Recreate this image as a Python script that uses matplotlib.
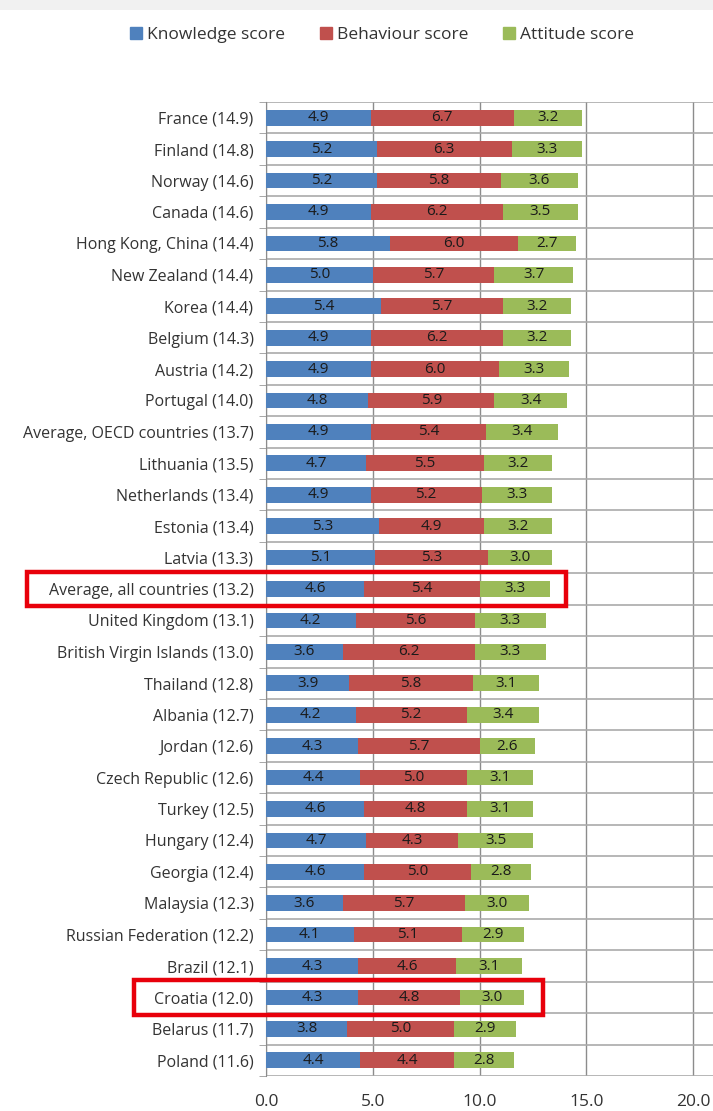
import matplotlib.pyplot as plt
import matplotlib.patches as mpatches
from matplotlib.transforms import blended_transform_factory
import numpy as np

plt.rcParams["font.family"] = ["Open Sans", "DejaVu Sans"]

countries = [
    "France", "Finland", "Norway", "Canada", "Hong Kong, China", "New Zealand",
    "Korea", "Belgium", "Austria", "Portugal", "Average, OECD countries",
    "Lithuania", "Netherlands", "Estonia", "Latvia", "Average, all countries",
    "United Kingdom", "British Virgin Islands", "Thailand", "Albania", "Jordan",
    "Czech Republic", "Turkey", "Hungary", "Georgia", "Malaysia",
    "Russian Federation", "Brazil", "Croatia", "Belarus", "Poland",
]
totals = [14.9, 14.8, 14.6, 14.6, 14.4, 14.4, 14.4, 14.3, 14.2, 14.0, 13.7,
          13.5, 13.4, 13.4, 13.3, 13.2, 13.1, 13.0, 12.8, 12.7, 12.6, 12.6,
          12.5, 12.4, 12.4, 12.3, 12.2, 12.1, 12.0, 11.7, 11.6]
knowledge = [4.9, 5.2, 5.2, 4.9, 5.8, 5.0, 5.4, 4.9, 4.9, 4.8, 4.9, 4.7, 4.9,
             5.3, 5.1, 4.6, 4.2, 3.6, 3.9, 4.2, 4.3, 4.4, 4.6, 4.7, 4.6, 3.6,
             4.1, 4.3, 4.3, 3.8, 4.4]
behaviour = [6.7, 6.3, 5.8, 6.2, 6.0, 5.7, 5.7, 6.2, 6.0, 5.9, 5.4, 5.5, 5.2,
             4.9, 5.3, 5.4, 5.6, 6.2, 5.8, 5.2, 5.7, 5.0, 4.8, 4.3, 5.0, 5.7,
             5.1, 4.6, 4.8, 5.0, 4.4]
attitude = [3.2, 3.3, 3.6, 3.5, 2.7, 3.7, 3.2, 3.2, 3.3, 3.4, 3.4, 3.2, 3.3,
            3.2, 3.0, 3.3, 3.3, 3.3, 3.1, 3.4, 2.6, 3.1, 3.1, 3.5, 2.8, 3.0,
            2.9, 3.1, 3.0, 2.9, 2.8]
series_names = ["Knowledge score", "Behaviour score", "Attitude score"]
highlighted = ["Average, all countries", "Croatia"]
x_ticks = [0, 5, 10, 15, 20]

COLORS = ["#4F81BD", "#C0504D", "#9BBB59"]

W, H = 713, 1111
fig = plt.figure(figsize=(W / 100, H / 100), dpi=100)
ax = fig.add_axes([266 / W, 1 - 1076 / H, (W - 266) / W, (1076 - 102) / H])

# faint gray band at the very top
fig.patches.append(mpatches.Rectangle((0, 1 - 10 / H), 1, 10 / H, transform=fig.transFigure,
                                      facecolor="#F1F1F1", edgecolor="none", zorder=0))

labels = [f"{c} ({t:.1f})" for c, t in zip(countries, totals)]
y = np.arange(len(countries))
left = np.zeros(len(countries))
for vals, col, name in zip([knowledge, behaviour, attitude], COLORS, series_names):
    vals = np.array(vals)
    ax.barh(y, vals, left=left, height=0.5, color=col, label=name, zorder=3)
    for yi, l, v in zip(y, left, vals):
        ax.text(l + v / 2, yi, f"{v:.1f}", ha="center", va="center",
                fontsize=11, color="#1a1a1a", zorder=4)
    left = left + vals

px_per_unit = (693 - 266) / 20
ax.set_xlim(0, (W - 266) / px_per_unit)
ax.set_ylim(len(countries) - 0.5, -0.5)
ax.set_yticks(y)
ax.set_yticklabels(labels, fontsize=11.5, color="#333333")
ax.set_yticks(np.arange(len(countries) + 1) - 0.5, minor=True)
ax.tick_params(axis="y", which="major", length=0, pad=9)
ax.tick_params(axis="y", which="minor", length=5, color="#999999")
ax.set_xticks(x_ticks)
ax.set_xticklabels([f"{v:.1f}" for v in x_ticks], fontsize=12.5, color="#333333")
ax.tick_params(axis="x", length=0, pad=13)

ax.grid(axis="y", which="minor", color="#AAAAAA", lw=1.2, zorder=1)
ax.grid(axis="x", which="major", color="#8C8C8C", lw=1.0, zorder=1)
ax.grid(axis="y", which="major", visible=False)
for s in ["right", "bottom", "top"]:
    ax.spines[s].set_visible(False)
ax.spines["left"].set_color("#8C8C8C")

# highlight boxes (x in figure fraction, y in data)
trans = blended_transform_factory(fig.transFigure, ax.transData)
box_x = {"Average, all countries": (27, 566), "Croatia": (134, 543)}
for name in highlighted:
    i = countries.index(name)
    x0, x1 = box_x[name]
    ax.add_patch(mpatches.Rectangle((x0 / W, i - 0.55), (x1 - x0) / W, 1.1, transform=trans,
                                    fill=False, edgecolor="#E8000B", lw=3.2,
                                    clip_on=False, zorder=5))

handles = [mpatches.Patch(color=c, label=n) for c, n in zip(COLORS, series_names)]
fig.legend(handles=handles, loc="center", bbox_to_anchor=(382 / W, 1 - 35 / H), ncol=3,
           frameon=False, fontsize=12.5, handlelength=0.7, handleheight=0.7,
           handletextpad=0.3, columnspacing=2.0, labelcolor="#333333")

fig.savefig("out.png", dpi=100, facecolor="white")
